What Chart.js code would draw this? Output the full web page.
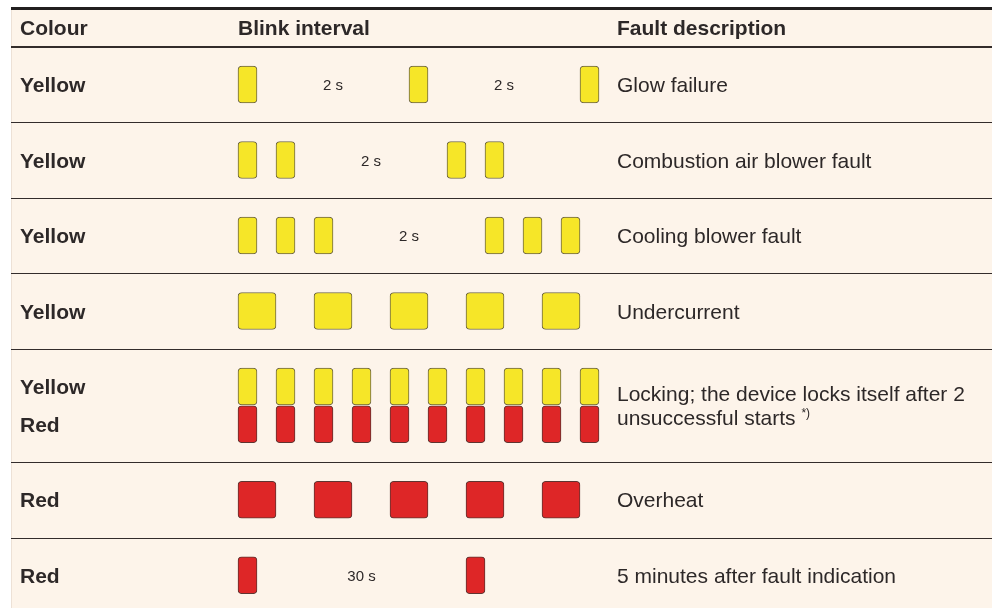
<!DOCTYPE html>
<html>
<head>
<meta charset="utf-8">
<script src="https://cdn.jsdelivr.net/npm/chart.js@4"></script>
<style>
    html, body { margin: 0; padding: 0; background: #ffffff; }
    #chart { display: block; }
</style>
</head>
<body>
<canvas id="chart" width="992" height="608"></canvas>
<script>
// Таблица кодов мигания: время в тактах (1 такт = 0,5 с)
const headers = ['Colour', 'Blink interval', 'Fault description'];
const colourLabels = [['Yellow'], ['Yellow'], ['Yellow'], ['Yellow'], ['Yellow', 'Red'], ['Red'], ['Red']];
const faultTexts = [
    ['Glow failure'],
    ['Combustion air blower fault'],
    ['Cooling blower fault'],
    ['Undercurrent'],
    ['Locking; the device locks itself after 2', 'unsuccessful starts '],
    ['Overheat'],
    ['5 minutes after fault indication']
];

// Начала вспышек в тактах
const glowFailure = [0, 4.5, 9];
const airBlower = [0, 1, 5.5, 6.5];
const coolingBlower = [0, 1, 2, 6.5, 7.5, 8.5];
const undercurrent = [0, 2, 4, 6, 8];
const locking = [0, 1, 2, 3, 4, 5, 6, 7, 8, 9];
const overheat = [0, 2, 4, 6, 8];
const afterFault = [0, 6];
const SHORT = 0.5;
const LONG = 1;

// Подписи пауз: текст, строка, середина паузы
const gapTexts = ['2 s', '2 s', '2 s', '2 s', '30 s'];
const gapLanes = [1, 1, 2, 3, 7.5];
const gapCentres = [2.5, 7, 3.5, 4.5, 3.25];

// Границы строк таблицы (в единицах оси Y)
const rowBounds = [0.5, 1.5, 2.5, 3.5, 4.5, 6, 7];
const rowCentres = [1, 2, 3, 4, 5.25, 6.5, 7.5];

const YELLOW = '#f6e628';
const YELLOW_EDGE = '#6e6645';
const RED = '#de2627';
const RED_EDGE = '#5f3431';
const INK = '#2d2828';
const PAPER = '#fdf4ea';
const FONT = '"Liberation Sans", Arial, sans-serif';

function pulses(lane, starts, len) {
    return starts.map(s => ({ x: [s, s + len], y: lane }));
}

const yellowData = [
    ...pulses(1, glowFailure, SHORT),
    ...pulses(2, airBlower, SHORT),
    ...pulses(3, coolingBlower, SHORT),
    ...pulses(4, undercurrent, LONG),
    ...pulses(5, locking, SHORT)
];
const redData = [
    ...pulses(5.5, locking, SHORT),
    ...pulses(6.5, overheat, LONG),
    ...pulses(7.5, afterFault, SHORT)
];

// Фон и линейки таблицы
const tableGrid = {
    id: 'tableGrid',
    beforeDatasetsDraw(chart) {
        const { ctx, scales: { y } } = chart;
        const top = y.getPixelForValue(0);
        ctx.save();
        ctx.fillStyle = PAPER;
        ctx.fillRect(11, top, chart.width - 11, chart.height - top);
        ctx.fillStyle = 'rgba(120, 90, 70, 0.12)';
        ctx.fillRect(11, top, 1, chart.height - top);

        ctx.fillStyle = '#221f1f';
        ctx.fillRect(11, Math.round(top) - 2, chart.width - 11, 3);

        ctx.fillStyle = '#332c2b';
        ctx.fillRect(11, Math.round(y.getPixelForValue(rowBounds[0])) - 1, chart.width - 11, 2);
        rowBounds.slice(1).forEach(b => {
            ctx.fillRect(11, Math.round(y.getPixelForValue(b)), chart.width - 11, 1);
        });
        ctx.restore();
    },
    afterDatasetsDraw(chart) {
        const { ctx, scales: { x, y } } = chart;
        ctx.save();
        ctx.fillStyle = INK;
        ctx.textBaseline = 'alphabetic';

        // Заголовки
        ctx.font = `bold 21px ${FONT}`;
        const headY = y.getPixelForValue(0.25) + 7.5;
        ctx.fillText(headers[0], 20, headY);
        ctx.fillText(headers[1], 238, headY);
        ctx.fillText(headers[2], 617, headY);

        rowCentres.forEach((c, i) => {
            const mid = y.getPixelForValue(c);
            // Цвет
            ctx.font = `bold 21px ${FONT}`;
            const cols = colourLabels[i];
            if (cols.length === 1) {
                ctx.fillText(cols[0], 20, mid + 7.5);
            } else {
                ctx.fillText(cols[0], 20, y.getPixelForValue(5) + 7.5);
                ctx.fillText(cols[1], 20, y.getPixelForValue(5.5) + 7.5);
            }
            // Описание
            ctx.font = `21px ${FONT}`;
            const lines = faultTexts[i];
            const start = mid + 7.5 - (lines.length - 1) * 12;
            lines.forEach((t, k) => {
                ctx.fillText(t, 617, start + k * 24);
                if (lines.length > 1 && k === lines.length - 1) {
                    const w = ctx.measureText(t).width;
                    ctx.font = `12px ${FONT}`;
                    ctx.fillText('*)', 617 + w, start + k * 24 - 8);
                    ctx.font = `21px ${FONT}`;
                }
            });
        });

        // Паузы
        ctx.font = `15px ${FONT}`;
        ctx.textAlign = 'center';
        gapTexts.forEach((t, i) => {
            ctx.fillText(t, x.getPixelForValue(gapCentres[i]), y.getPixelForValue(gapLanes[i]) + 5.5);
        });
        ctx.restore();
    }
};

// 1 такт = 38 px, начало первой вспышки на 238 px
const X_MIN = -238 / 38;
const X_MAX = X_MIN + 992 / 38;
const Y_MIN = -9 / 75.5;
const Y_MAX = Y_MIN + 608 / 75.5;

new Chart(document.getElementById('chart'), {
    type: 'bar',
    data: {
        datasets: [
            {
                label: 'Yellow',
                data: yellowData,
                backgroundColor: YELLOW,
                borderColor: YELLOW_EDGE,
                borderWidth: 1,
                borderRadius: 4,
                borderSkipped: false,
                barThickness: 37,
                grouped: false
            },
            {
                label: 'Red',
                data: redData,
                backgroundColor: RED,
                borderColor: RED_EDGE,
                borderWidth: 1,
                borderRadius: 4,
                borderSkipped: false,
                barThickness: 37,
                grouped: false
            }
        ]
    },
    options: {
        indexAxis: 'y',
        responsive: false,
        animation: false,
        layout: { padding: 0 },
        plugins: {
            legend: { display: false },
            tooltip: { enabled: false }
        },
        scales: {
            x: { type: 'linear', min: X_MIN, max: X_MAX, offset: false, display: false },
            y: { type: 'linear', min: Y_MIN, max: Y_MAX, offset: false, reverse: true, display: false }
        }
    },
    plugins: [tableGrid]
});
</script>
</body>
</html>
